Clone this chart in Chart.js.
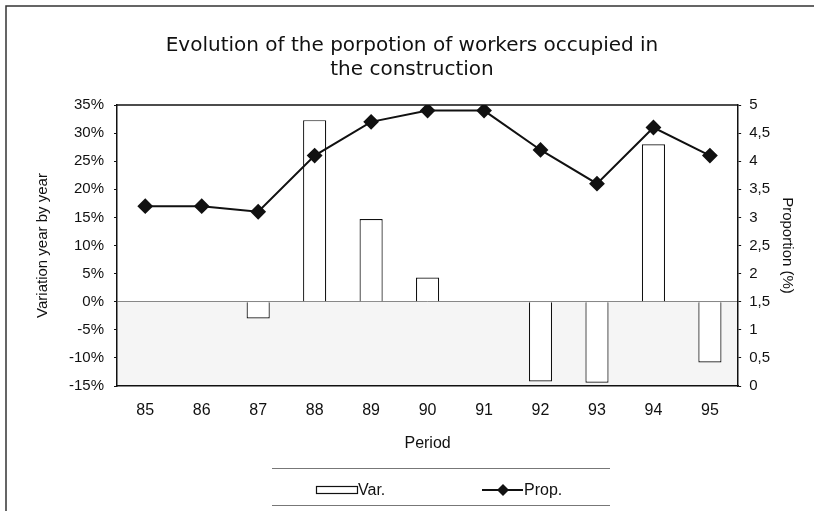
<!DOCTYPE html>
<html lang="en">
<head>
    <meta charset="UTF-8">
    <title>Evolution of the porpotion of workers occupied in the construction</title>
    <script src="https://cdn.jsdelivr.net/npm/chart.js"></script>
    <style>
        body, html {
            margin: 0;
            padding: 0;
            width: 814px;
            height: 511px;
            overflow: hidden;
            background: #fff;
        }
        #wrap {
            width: 814px;
            height: 511px;
        }
    </style>
</head>
<body>
    <div id="wrap"><canvas id="constructionChart"></canvas></div>

    <script>
        const periods = ['85', '86', '87', '88', '89', '90', '91', '92', '93', '94', '95'];
        // year-on-year variation, in %
        const variation = [null, null, -3, 32.3, 14.7, 4.3, null, -14.2, -14.4, 28, -10.8];
        // proportion of workers in construction, in %
        const proportion = [3.2, 3.2, 3.1, 4.1, 4.7, 4.9, 4.9, 4.2, 3.6, 4.6, 4.1];

        const FONT = 'Liberation Sans, Arial, sans-serif';
        const TITLE_FONT = 'DejaVu Sans, sans-serif';

        // frame, plot border, legend box
        const framePlugin = {
            id: 'frame',
            beforeDraw(chart) {
                const ctx = chart.ctx;
                const a = chart.chartArea;
                ctx.save();
                ctx.fillStyle = '#fff';
                ctx.fillRect(0, 0, chart.width, chart.height);
                // light grey area under zero
                const y0 = chart.scales.y.getPixelForValue(0);
                ctx.fillStyle = '#f5f5f5';
                ctx.fillRect(a.left, y0, a.right - a.left, a.bottom - y0);
                ctx.strokeStyle = '#333';
                ctx.lineWidth = 1.5;
                ctx.beginPath();
                ctx.moveTo(6, chart.height);
                ctx.lineTo(6, 6);
                ctx.lineTo(chart.width, 6);
                ctx.stroke();
                ctx.restore();
            },
            afterDatasetsDraw(chart) {
                const ctx = chart.ctx;
                const a = chart.chartArea;
                ctx.save();
                ctx.strokeStyle = '#111';
                ctx.lineWidth = 1.5;
                ctx.beginPath();
                ctx.moveTo(a.left, a.top);
                ctx.lineTo(a.right, a.top);
                ctx.stroke();
                ctx.restore();
            },
            afterDraw(chart) {
                const ctx = chart.ctx;
                ctx.save();
                // legend box
                const bx = 272, by = 468, bw = 338, bh = 37;
                ctx.strokeStyle = '#777';
                ctx.lineWidth = 1;
                ctx.beginPath();
                ctx.moveTo(bx, by + 0.5);
                ctx.lineTo(bx + bw, by + 0.5);
                ctx.moveTo(bx, by + bh + 0.5);
                ctx.lineTo(bx + bw, by + bh + 0.5);
                ctx.stroke();
                const my = 490;
                // Var. swatch
                ctx.fillStyle = '#fff';
                ctx.strokeStyle = '#111';
                ctx.lineWidth = 1.2;
                ctx.fillRect(316.5, my - 3.5, 41, 7);
                ctx.strokeRect(316.5, my - 3.5, 41, 7);
                ctx.fillStyle = '#111';
                ctx.font = '16px ' + FONT;
                ctx.textBaseline = 'middle';
                ctx.textAlign = 'left';
                ctx.fillText(chart.data.datasets[0].label, 358, my + 1);
                // Prop. line + diamond
                ctx.lineWidth = 2;
                ctx.beginPath();
                ctx.moveTo(482, my);
                ctx.lineTo(523, my);
                ctx.stroke();
                ctx.beginPath();
                ctx.moveTo(503, my - 6);
                ctx.lineTo(509, my);
                ctx.lineTo(503, my + 6);
                ctx.lineTo(497, my);
                ctx.closePath();
                ctx.fill();
                ctx.fillText(chart.data.datasets[1].label, 524, my + 1);
                ctx.restore();
            }
        };

        const ctx = document.getElementById('constructionChart').getContext('2d');
        new Chart(ctx, {
            data: {
                labels: periods,
                datasets: [
                    {
                        type: 'bar',
                        label: 'Var.',
                        data: variation,
                        yAxisID: 'y',
                        backgroundColor: '#fff',
                        borderColor: '#111',
                        borderWidth: 1.2,
                        barPercentage: 0.41,
                        categoryPercentage: 1,
                        order: 2
                    },
                    {
                        type: 'line',
                        label: 'Prop.',
                        data: proportion,
                        yAxisID: 'y1',
                        borderColor: '#111',
                        backgroundColor: '#111',
                        borderWidth: 2,
                        pointStyle: 'rectRot',
                        pointRadius: 6.5,
                        pointHoverRadius: 6.5,
                        tension: 0,
                        order: 1
                    }
                ]
            },
            options: {
                responsive: true,
                maintainAspectRatio: false,
                animation: false,
                layout: {
                    padding: { left: 10, right: 0, top: 20, bottom: 59 }
                },
                scales: {
                    x: {
                        grid: { display: false, drawTicks: false },
                        border: { display: true, color: '#111', width: 1.5 },
                        ticks: {
                            color: '#111',
                            padding: 15,
                            font: { family: FONT, size: 16 }
                        },
                        title: {
                            display: true,
                            text: 'Period',
                            color: '#111',
                            padding: { top: 0, bottom: 0 },
                            font: { family: FONT, size: 16, lineHeight: 1.05 }
                        }
                    },
                    y: {
                        position: 'left',
                        min: -15,
                        max: 35,
                        grid: {
                            drawOnChartArea: true,
                            color: ctx => ctx.tick && ctx.tick.value === 0 ? '#888' : 'rgba(0,0,0,0)',
                            lineWidth: 1,
                            tickLength: 3,
                            tickColor: '#111'
                        },
                        border: { display: true, color: '#111', width: 1.5 },
                        ticks: {
                            stepSize: 5,
                            color: '#111',
                            padding: 10,
                            font: { family: FONT, size: 15 },
                            callback: v => v + '%'
                        },
                        title: {
                            display: true,
                            text: 'Variation year by year',
                            color: '#111',
                            padding: { top: 24, bottom: 7 },
                            font: { family: FONT, size: 15 }
                        }
                    },
                    y1: {
                        position: 'right',
                        min: 0,
                        max: 5,
                        grid: {
                            drawOnChartArea: false,
                            tickLength: 3,
                            tickColor: '#111'
                        },
                        border: { display: true, color: '#111', width: 1.5 },
                        ticks: {
                            stepSize: 0.5,
                            color: '#111',
                            padding: 8,
                            font: { family: FONT, size: 15 },
                            callback: v => String(v).replace('.', ',')
                        },
                        title: {
                            display: true,
                            text: 'Proportion (%)',
                            color: '#111',
                            padding: { top: 18, bottom: 0 },
                            font: { family: FONT, size: 15 }
                        }
                    }
                },
                plugins: {
                    legend: { display: false },
                    tooltip: { enabled: false },
                    title: {
                        display: true,
                        text: ['Evolution of the porpotion of workers occupied in', 'the construction'],
                        color: '#111',
                        padding: { top: 14, bottom: 23 },
                        font: { family: TITLE_FONT, size: 20, weight: 'normal', lineHeight: 1.2 }
                    }
                }
            },
            plugins: [framePlugin]
        });
    </script>
</body>
</html>
